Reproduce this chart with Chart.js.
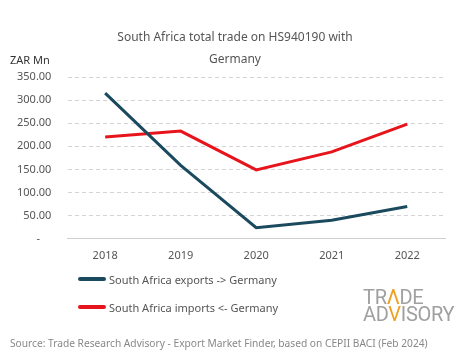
<!DOCTYPE html>
<html>
<head>
<meta charset="utf-8">
<script src="https://cdn.jsdelivr.net/npm/chart.js@4.4.1/dist/chart.umd.min.js"></script>
<style>
  html, body { margin: 0; padding: 0; background: #fff; }
  body { width: 465px; height: 359px; position: relative; overflow: hidden; font-family: "Noto Sans", sans-serif; }
  #wrap { position: absolute; left: 0; top: 0; width: 465px; height: 359px; }
  .txt { position: absolute; white-space: nowrap; }
  #title { left: 0; width: 470px; top: 26px; text-align: center; font-size: 12px; color: #555; line-height: 22px; }
  #unit { left: 10px; top: 52px; font-size: 11px; color: #333; }
  #legend { left: 78px; top: 265px; font-size: 11px; color: #555; }
  .item { height: 28px; display: flex; align-items: center; }
  .sw { width: 28px; height: 4px; border-radius: 2px; margin-right: 3px; }
  #logo { left: 363px; top: 289px; font-size: 20px; color: #a0a0a0; line-height: 17px; font-family: "Liberation Sans Narrow", "Roboto", sans-serif; letter-spacing: -0.3px; }
  #logo .o { color: #f0a020; }
  #source { left: 10px; top: 336px; font-size: 10.2px; color: #888; }
</style>
</head>
<body>
<div id="wrap"><canvas id="c" width="465" height="359"></canvas></div>
<div id="title" class="txt">South Africa total trade on HS940190 with<br>Germany</div>
<div id="unit" class="txt">ZAR Mn</div>
<div id="legend" class="txt"></div>
<div id="logo" class="txt">TR<span class="o">&Lambda;</span>DE<br>AD<span class="o">V</span>ISORY</div>
<div id="source" class="txt">Source: Trade Research Advisory - Export Market Finder, based on CEPII BACI (Feb 2024)</div>
<script>
// Données
const years = ['2018', '2019', '2020', '2021', '2022'];
const exportsToGermany = [315, 159, 24, 40, 70];
const importsFromGermany = [220, 233, 149, 188, 248];
const seriesNames = ['South Africa exports -> Germany', 'South Africa imports <- Germany'];
const seriesColors = ['#1b4a5e', '#e8141c'];

const ctx = document.getElementById('c');
const chart = new Chart(ctx, {
    type: 'line',
    data: {
        labels: years,
        datasets: [{
            label: seriesNames[0],
            data: exportsToGermany,
            borderColor: seriesColors[0],
            backgroundColor: seriesColors[0],
            borderWidth: 3,
            pointRadius: 0,
            tension: 0
        }, {
            label: seriesNames[1],
            data: importsFromGermany,
            borderColor: seriesColors[1],
            backgroundColor: seriesColors[1],
            borderWidth: 3,
            pointRadius: 0,
            tension: 0
        }]
    },
    options: {
        responsive: false,
        animation: false,
        layout: { padding: { left: 1, right: 20, top: 77, bottom: 87 } },
        plugins: {
            legend: { display: false },
            title: { display: false },
            tooltip: { enabled: false }
        },
        scales: {
            x: {
                offset: true,
                grid: { display: false, drawTicks: false },
                border: { color: '#cfcfcf' },
                ticks: { color: '#555', font: { family: 'Noto Sans', size: 11 }, padding: 10 }
            },
            y: {
                min: 0,
                max: 350,
                ticks: {
                    stepSize: 50,
                    color: '#555',
                    font: { family: 'Noto Sans', size: 11 },
                    padding: 16,
                    callback: v => v === 0 ? '-    ' : v.toFixed(2)
                },
                grid: {
                    drawTicks: false,
                    color: '#d4d4d4'
                },
                border: { display: true, color: 'rgba(0,0,0,0)', dash: [4, 3] }
            }
        }
    }
});

// Légende
const legend = document.getElementById('legend');
seriesNames.forEach((name, i) => {
    legend.innerHTML += '<div class="item"><span class="sw" style="background:' + seriesColors[i] + '"></span>' + name.replace('<', '&lt;').replace('>', '&gt;') + '</div>';
});
</script>
</body>
</html>
